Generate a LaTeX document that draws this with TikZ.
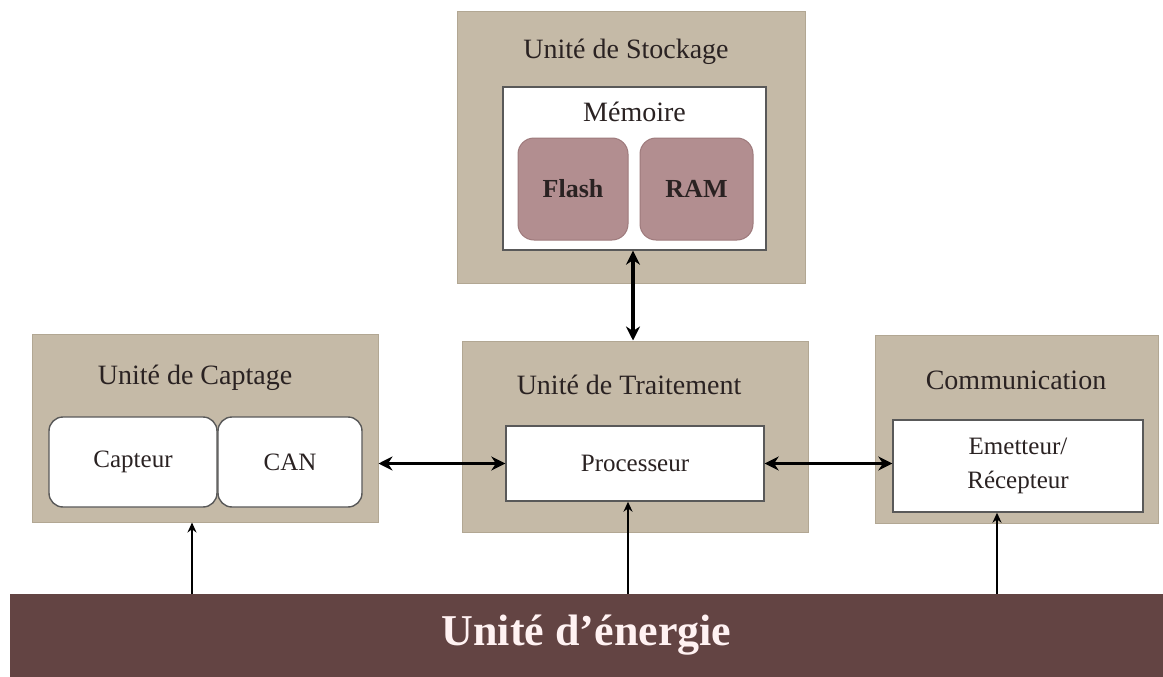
\documentclass[tikz,border=0pt]{standalone}
\usepackage{fontspec}
\setmainfont{Liberation Serif}
\usetikzlibrary{arrows.meta}
\definecolor{beige}{HTML}{C5BAA7}
\definecolor{beigeline}{HTML}{B2A793}
\definecolor{mauve}{HTML}{B28E90}
\definecolor{mauveline}{HTML}{9E7A7C}
\definecolor{energy}{HTML}{634443}
\definecolor{ink}{HTML}{2A2222}
\tikzset{
  unit/.style={draw=beigeline, line width=1pt, fill=beige, inner sep=0pt},
  whitebox/.style={draw=black!65, line width=1.4pt, fill=white, inner sep=0pt},
  roundbox/.style={whitebox, rounded corners=14pt},
  memcell/.style={draw=mauveline, line width=1pt, fill=mauve, rounded corners=16pt, inner sep=0pt,
    font=\fontsize{26}{30}\selectfont\bfseries, text=ink},
  title/.style={font=\fontsize{28}{32}\selectfont, text=ink},
  label/.style={font=\fontsize{25}{30}\selectfont, text=ink, align=center},
  bus/.style={line width=3.2pt, {Stealth[length=14pt,width=14pt]}-{Stealth[length=14pt,width=14pt]}},
  feed/.style={line width=2pt, -{Stealth[length=10pt,width=9pt]}},
}
\begin{document}
\begin{tikzpicture}[x=1pt,y=-1pt]
\useasboundingbox (0,0) rectangle (1163,677);
\fill[white] (0,0) rectangle (1163,677);

% storage unit
\node[unit, minimum width=348pt, minimum height=271pt] (stock) at (631,147.5) {};
\node[title] (stockT) at (626,52) {Unité de Stockage};
\node[whitebox, minimum width=263pt, minimum height=163pt] (mem) at (634.5,168.5) {};
\node[title] (memT) at (634.5,112) {Mémoire};
\node[memcell, minimum width=110pt, minimum height=102pt] (flash) at (573,189) {Flash};
\node[memcell, minimum width=113pt, minimum height=102pt] (ram) at (696.5,189) {RAM};

% sensing unit
\node[unit, minimum width=346pt, minimum height=188pt] (cap) at (205,428) {};
\node[title] (capT) at (195,378) {Unité de Captage};
\node[roundbox, minimum width=168pt, minimum height=90pt, label] (capteur) at (133,462) {Capteur};
\node[roundbox, minimum width=144pt, minimum height=90pt, label] (can) at (290,462) {CAN};

% processing unit
\node[unit, minimum width=346pt, minimum height=191pt] (trait) at (635,436.5) {};
\node[title] (traitT) at (629,385) {Unité de Traitement};
\node[whitebox, minimum width=258pt, minimum height=75pt, label] (proc) at (635,463.5) {Processeur};

% communication unit
\node[unit, minimum width=283pt, minimum height=188pt] (comm) at (1016.5,429) {};
\node[title] (commT) at (1016,380) {Communication};
\node[whitebox, minimum width=250pt, minimum height=92pt, label] (emet) at (1018,466) {Emetteur/\\[4pt]Récepteur};

% energy unit
\node[fill=energy, minimum width=1153pt, minimum height=83pt, inner sep=0pt,
  font=\fontsize{44}{50}\selectfont\bfseries, text=white!95!red] (bar) at (586.5,635.5) {Unité d’énergie};

% data links
\coordinate (xs) at (633,0);
\draw[bus] (mem.south -| xs) -- (trait.north -| xs);
\draw[bus] (cap.east |- proc.west) -- (proc.west);
\draw[bus] (proc.east) -- (emet.west |- proc.east);

% power feeds
\coordinate (x1) at (192,0);
\coordinate (x2) at (628,0);
\coordinate (x3) at (997,0);
\draw[feed] (bar.north -| x1) -- (cap.south -| x1);
\draw[feed] (bar.north -| x2) -- (proc.south -| x2);
\draw[feed] (bar.north -| x3) -- (emet.south -| x3);
\end{tikzpicture}
\end{document}
